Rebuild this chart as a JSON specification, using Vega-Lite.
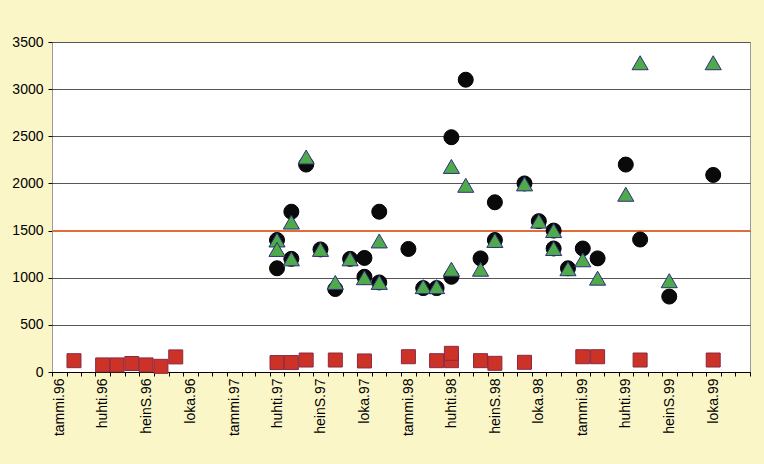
{
  "$schema": "https://vega.github.io/schema/vega-lite/v6.json",
  "width": 698,
  "height": 330,
  "autosize": {"type": "none"},
  "padding": {"left": 52, "top": 42, "right": 14, "bottom": 92},
  "background": "#FBF6C8",
  "config": {
    "view": {"fill": "white", "stroke": "#9A9A9A", "strokeWidth": 1},
    "axis": {"labelFont": "Liberation Sans", "labelFontSize": 14, "labelColor": "black", "tickColor": "black"}
  },
  "datasets": {
    "pts": [
      {"date": "1996-02-16", "value": 120, "series": "C"},
      {"date": "1996-04-16", "value": 75, "series": "C"},
      {"date": "1996-05-16", "value": 75, "series": "C"},
      {"date": "1996-06-16", "value": 90, "series": "C"},
      {"date": "1996-07-16", "value": 75, "series": "C"},
      {"date": "1996-08-16", "value": 60, "series": "C"},
      {"date": "1996-09-16", "value": 160, "series": "C"},
      {"date": "1997-04-16", "value": 100, "series": "C"},
      {"date": "1997-05-16", "value": 100, "series": "C"},
      {"date": "1997-06-16", "value": 127, "series": "C"},
      {"date": "1997-08-16", "value": 127, "series": "C"},
      {"date": "1997-10-16", "value": 117, "series": "C"},
      {"date": "1998-01-16", "value": 162, "series": "C"},
      {"date": "1998-03-16", "value": 120, "series": "C"},
      {"date": "1998-04-16", "value": 120, "series": "C"},
      {"date": "1998-04-16", "value": 198, "series": "C"},
      {"date": "1998-06-16", "value": 120, "series": "C"},
      {"date": "1998-07-16", "value": 92, "series": "C"},
      {"date": "1998-09-16", "value": 103, "series": "C"},
      {"date": "1999-01-16", "value": 162, "series": "C"},
      {"date": "1999-02-16", "value": 162, "series": "C"},
      {"date": "1999-05-16", "value": 127, "series": "C"},
      {"date": "1999-10-16", "value": 127, "series": "C"},

      {"date": "1997-04-16", "value": 1400, "series": "A"},
      {"date": "1997-04-16", "value": 1100, "series": "A"},
      {"date": "1997-05-16", "value": 1700, "series": "A"},
      {"date": "1997-05-16", "value": 1200, "series": "A"},
      {"date": "1997-06-16", "value": 2200, "series": "A"},
      {"date": "1997-07-16", "value": 1300, "series": "A"},
      {"date": "1997-08-16", "value": 880, "series": "A"},
      {"date": "1997-09-16", "value": 1200, "series": "A"},
      {"date": "1997-10-16", "value": 1210, "series": "A"},
      {"date": "1997-10-16", "value": 1010, "series": "A"},
      {"date": "1997-11-16", "value": 1700, "series": "A"},
      {"date": "1997-11-16", "value": 950, "series": "A"},
      {"date": "1998-01-16", "value": 1305, "series": "A"},
      {"date": "1998-02-16", "value": 890, "series": "A"},
      {"date": "1998-03-16", "value": 890, "series": "A"},
      {"date": "1998-04-16", "value": 2490, "series": "A"},
      {"date": "1998-04-16", "value": 1010, "series": "A"},
      {"date": "1998-05-16", "value": 3100, "series": "A"},
      {"date": "1998-06-16", "value": 1205, "series": "A"},
      {"date": "1998-07-16", "value": 1800, "series": "A"},
      {"date": "1998-07-16", "value": 1400, "series": "A"},
      {"date": "1998-09-16", "value": 2000, "series": "A"},
      {"date": "1998-10-16", "value": 1600, "series": "A"},
      {"date": "1998-11-16", "value": 1500, "series": "A"},
      {"date": "1998-11-16", "value": 1310, "series": "A"},
      {"date": "1998-12-16", "value": 1100, "series": "A"},
      {"date": "1999-01-16", "value": 1310, "series": "A"},
      {"date": "1999-02-16", "value": 1205, "series": "A"},
      {"date": "1999-04-16", "value": 2200, "series": "A"},
      {"date": "1999-05-16", "value": 1405, "series": "A"},
      {"date": "1999-07-16", "value": 800, "series": "A"},
      {"date": "1999-10-16", "value": 2090, "series": "A"},

      {"date": "1997-04-16", "value": 1400, "series": "B"},
      {"date": "1997-04-16", "value": 1300, "series": "B"},
      {"date": "1997-05-16", "value": 1590, "series": "B"},
      {"date": "1997-05-16", "value": 1200, "series": "B"},
      {"date": "1997-06-16", "value": 2280, "series": "B"},
      {"date": "1997-07-16", "value": 1300, "series": "B"},
      {"date": "1997-08-16", "value": 950, "series": "B"},
      {"date": "1997-09-16", "value": 1200, "series": "B"},
      {"date": "1997-10-16", "value": 1000, "series": "B"},
      {"date": "1997-11-16", "value": 1390, "series": "B"},
      {"date": "1997-11-16", "value": 950, "series": "B"},
      {"date": "1998-02-16", "value": 905, "series": "B"},
      {"date": "1998-03-16", "value": 905, "series": "B"},
      {"date": "1998-04-16", "value": 2180, "series": "B"},
      {"date": "1998-04-16", "value": 1090, "series": "B"},
      {"date": "1998-05-16", "value": 1980, "series": "B"},
      {"date": "1998-06-16", "value": 1090, "series": "B"},
      {"date": "1998-07-16", "value": 1395, "series": "B"},
      {"date": "1998-09-16", "value": 1995, "series": "B"},
      {"date": "1998-10-16", "value": 1600, "series": "B"},
      {"date": "1998-11-16", "value": 1500, "series": "B"},
      {"date": "1998-11-16", "value": 1310, "series": "B"},
      {"date": "1998-12-16", "value": 1095, "series": "B"},
      {"date": "1999-01-16", "value": 1190, "series": "B"},
      {"date": "1999-02-16", "value": 995, "series": "B"},
      {"date": "1999-04-16", "value": 1885, "series": "B"},
      {"date": "1999-05-16", "value": 3280, "series": "B"},
      {"date": "1999-07-16", "value": 968, "series": "B"},
      {"date": "1999-10-16", "value": 3280, "series": "B"}
    ]
  },
  "data": {"name": "pts"},
  "encoding": {
    "x": {
      "field": "date",
      "type": "temporal",
      "scale": {
        "type": "utc",
        "nice": false,
        "domain": [
          {"year": 1996, "month": 1, "date": 1, "utc": true},
          {"year": 2000, "month": 1, "date": 1, "utc": true}
        ]
      },
      "axis": {
        "title": null,
        "grid": false,
        "tickCount": {"interval": "month", "step": 1},
        "labelExpr": "(utcmonth(datum.value) % 3 == 0 && utcyear(datum.value) < 2000) ? ['tammi','huhti','heinS','loka'][utcmonth(datum.value) / 3] + '.' + utcFormat(datum.value, '%y') : ''",
        "labelAngle": -90,
        "labelAlign": "right",
        "labelBaseline": "middle",
        "labelOffset": 7.3,
        "labelPadding": 2,
        "labelOverlap": false,
        "labelBound": false,
        "labelFlush": false,
        "tickSize": 4,
        "domainColor": "black",
        "domainWidth": 1
      }
    },
    "y": {
      "field": "value",
      "type": "quantitative",
      "scale": {"domain": [0, 3500], "nice": false},
      "axis": {
        "title": null,
        "values": [0, 500, 1000, 1500, 2000, 2500, 3000, 3500],
        "format": "d",
        "grid": true,
        "gridColor": "#555555",
        "gridWidth": 1,
        "domain": false,
        "tickSize": 4,
        "labelPadding": 5
      }
    }
  },
  "layer": [
    {
      "mark": {"type": "rule", "color": "#E0703A", "strokeWidth": 1.2},
      "encoding": {"y": {"datum": 1500}, "x": {"value": 0}, "x2": {"value": 698}}
    },
    {
      "transform": [{"filter": "datum.series == 'C'"}],
      "mark": {"type": "point", "shape": "square", "filled": true, "fill": "#CC3326", "stroke": "#8A2846", "strokeWidth": 1, "size": 196, "opacity": 1}
    },
    {
      "transform": [{"filter": "datum.series == 'A'"}],
      "mark": {"type": "point", "shape": "circle", "filled": true, "fill": "#0A0A0A", "stroke": "#000000", "strokeWidth": 1, "size": 225, "opacity": 1}
    },
    {
      "transform": [{"filter": "datum.series == 'B'"}],
      "mark": {"type": "point", "shape": "triangle-up", "filled": true, "fill": "#4FAA4A", "stroke": "#2E2E80", "strokeWidth": 1, "size": 260, "opacity": 1}
    }
  ]
}
